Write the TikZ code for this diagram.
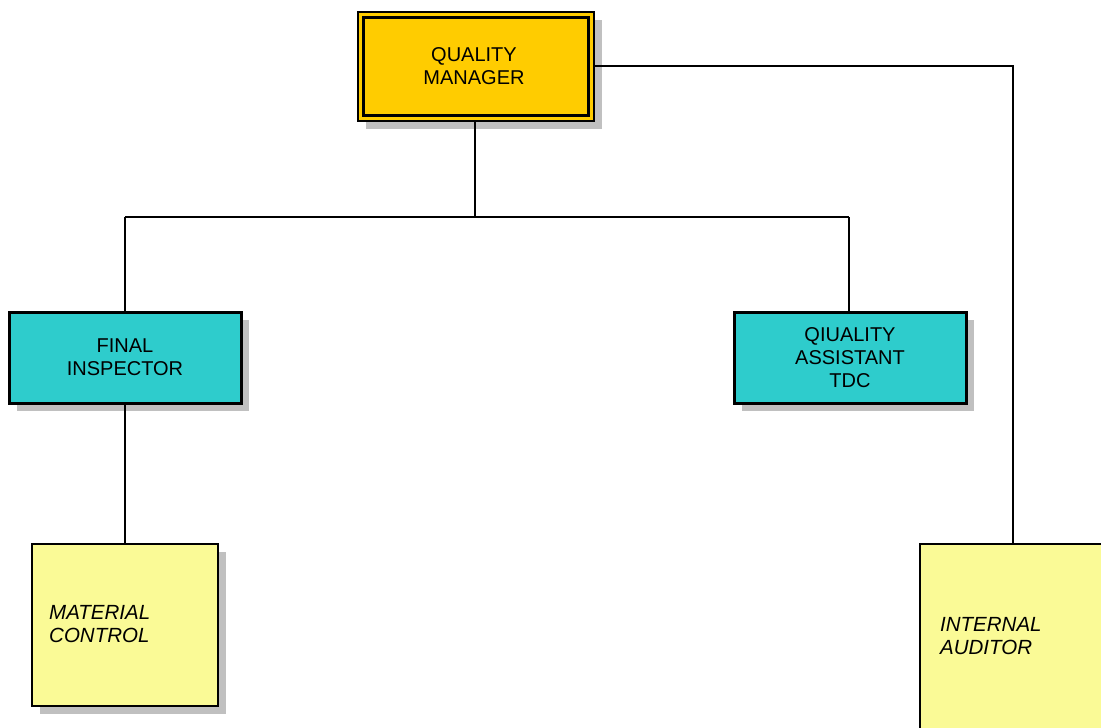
\documentclass[tikz,border=0pt]{standalone}
\usepackage{fontspec}
\setmainfont{Liberation Sans}
\usetikzlibrary{shadows}
\definecolor{qmgold}{RGB}{255,204,0}
\definecolor{turq}{RGB}{46,204,204}
\definecolor{pale}{RGB}{250,250,150}
\definecolor{shade}{RGB}{192,192,192}
\begin{document}
\begin{tikzpicture}[x=1pt,y=-1pt,
  sh/.style={drop shadow={shadow xshift=8pt,shadow yshift=-8pt,fill=shade,opacity=1}},
  box/.style={draw=black,inner sep=0pt,font=\fontsize{20}{23}\selectfont,align=center,sh},
  qmbox/.style={box,fill=qmgold,line width=2pt},
  tbox/.style={box,fill=turq,line width=3pt},
  ybox/.style={box,fill=pale,line width=2pt},
  itxt/.style={anchor=west,font=\fontsize{20.5}{23}\selectfont\itshape,align=left,inner sep=0pt},
  conn/.style={line width=1.5pt}]
\useasboundingbox (0,0) rectangle (1101,728);
\clip (0,0) rectangle (1101,728);
\node[qmbox,minimum width=236pt,minimum height=109pt] (qm) at (476,66.5) {};
\node[font=\fontsize{20}{23}\selectfont,align=center,inner sep=0pt] (qmt) at (474,66) {QUALITY\\MANAGER};
\draw[line width=2.5pt] ([shift={(6.5,6.5)}]qm.north west) rectangle ([shift={(-6.5,-6.5)}]qm.south east);
\node[tbox,minimum width=232pt,minimum height=91pt] (fi) at (125,357.5) {FINAL\\INSPECTOR};
\node[tbox,minimum width=232pt,minimum height=91pt] (qa) at (850,357.5) {QIUALITY\\ASSISTANT\\TDC};
\node[ybox,minimum width=186pt,minimum height=162pt] (mc) at (125,625) {};
\node[itxt] (mct) at (49,624) {MATERIAL\\CONTROL};
\node[ybox,minimum width=220pt,minimum height=240pt] (ia) at (1030,664) {};
\node[itxt] (iat) at (940,636) {INTERNAL\\AUDITOR};
\coordinate (j) at (475,217);
\coordinate (jl) at (125,217);
\coordinate (jr) at (849,217);
\coordinate (ra) at (1013,66);
\draw[conn] (qm.south -| j) -- (j);
\draw[conn] (jl) -- (jr);
\draw[conn] (jl) -- (jl |- fi.north);
\draw[conn] (jr) -- (jr |- qa.north);
\draw[conn] (fi.south) -- (mc.north);
\draw[conn] (qm.east |- ra) -- (ra) -- (ra |- ia.north);
\end{tikzpicture}
\end{document}
